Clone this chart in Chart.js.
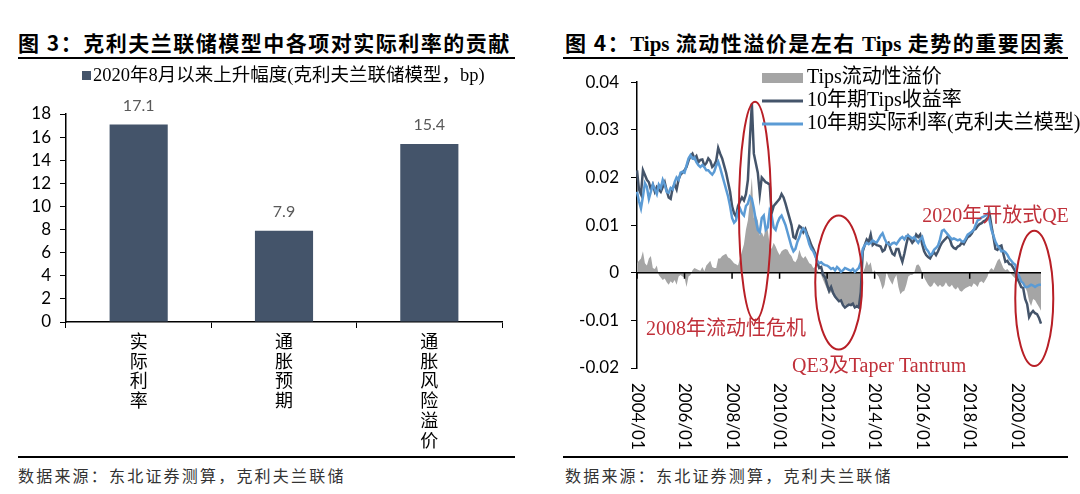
<!DOCTYPE html>
<html>
<head>
<meta charset="utf-8">
<script src="https://cdn.jsdelivr.net/npm/chart.js@4.4.1/dist/chart.umd.min.js"></script>
<style>
body{margin:0;width:1080px;height:494px;background:#fff;position:relative;overflow:hidden;font-family:"Noto Sans CJK SC",sans-serif}
.title{position:absolute;top:27px;font-size:21px;font-weight:bold;letter-spacing:1.5px;color:#000;white-space:nowrap;line-height:30px}
.title .en{font-family:"Liberation Serif",serif;letter-spacing:0}
.rule{position:absolute;height:2px;background:#000}
.src{position:absolute;top:464px;font-size:16px;letter-spacing:2.2px;color:#333;line-height:22px;white-space:nowrap}
canvas{position:absolute;top:60px}
</style>
</head>
<body>
<div class="title" style="left:18px">图 3：克利夫兰联储模型中各项对实际利率的贡献</div>
<div class="rule" style="left:18px;width:497px;top:57px"></div>
<div class="title" style="left:565px">图 4：<span class="en">Tips</span> 流动性溢价是左右 <span class="en">Tips</span> 走势的重要因素</div>
<div class="rule" style="left:563px;width:505px;top:57px"></div>

<canvas id="barChart" width="540" height="395" style="left:0"></canvas>
<canvas id="lineChart" width="540" height="395" style="left:540px"></canvas>

<div class="rule" style="left:18px;width:497px;top:456px"></div>
<div class="src" style="left:18px">数据来源：东北证券测算，克利夫兰联储</div>
<div class="rule" style="left:563px;width:505px;top:456px"></div>
<div class="src" style="left:565px">数据来源：东北证券测算，克利夫兰联储</div>

<script>
// 图3 数据
const barCategories = [['实', '际', '利', '率'], ['通', '胀', '预', '期'], ['通', '胀', '风', '险', '溢', '价']];
const barValues = [17.1, 7.9, 15.4];
const barSeriesName = '2020年8月以来上升幅度(克利夫兰联储模型，bp)';

// 图4 数据（月度，2004/01 - 2021/01）
const months = [];
for (let y = 2004; y <= 2021; y++) {
    for (let m = 1; m <= 12; m++) {
        if (y === 2021 && m > 1) break;
        months.push(y + '/' + String(m).padStart(2, '0'));
    }
}
const xTickLabels = ['2004/01', '2006/01', '2008/01', '2010/01', '2012/01', '2014/01', '2016/01', '2018/01', '2020/01'];
const seriesNames = ['Tips流动性溢价', '10年期Tips收益率', '10年期实际利率(克利夫兰模型)'];

const liquidityPremium = [
    0.0020, 0.0025, 0.0030, 0.0045, 0.0020, 0.0015, 0.0030, 0.0035, 0.0010, 0.0008, 0.0015, -0.0005,
    -0.0010, -0.0015, -0.0012, -0.0020, -0.0025, -0.0018, -0.0022, -0.0015, -0.0025, -0.0008, -0.0005, -0.0008,
    -0.0010, -0.0030, -0.0008, -0.0005, 0.0005, 0.0010, 0.0008, 0.0006, 0.0004, 0.0012, 0.0003, 0.0015,
    0.0020, 0.0025, 0.0012, 0.0010, 0.0010, 0.0030, 0.0030, 0.0035, 0.0038, 0.0040, 0.0032, 0.0030,
    0.0025, 0.0020, 0.0018, 0.0015, 0.0030, 0.0045, 0.0060, 0.0090, 0.0110, 0.0150, 0.0200, 0.0115,
    0.0120, 0.0110, 0.0078, 0.0085, 0.0075, 0.0095, 0.0090, 0.0060, 0.0050, 0.0063, 0.0055, 0.0045,
    0.0037, 0.0045, 0.0048, 0.0050, 0.0048, 0.0040, 0.0035, 0.0025, 0.0022, 0.0030, 0.0048, 0.0035,
    0.0030, 0.0035, 0.0028, 0.0020, 0.0018, 0.0010, 0.0012, 0.0005, 0.0000, -0.0005, -0.0015, -0.0025,
    -0.0035, -0.0045, -0.0040, -0.0048, -0.0052, -0.0058, -0.0062, -0.0058, -0.0065, -0.0068, -0.0070, -0.0065,
    -0.0068, -0.0063, -0.0068, -0.0070, -0.0075, -0.0060, 0.0000, 0.0010, 0.0025, 0.0015, 0.0022, 0.0000,
    0.0005, -0.0003, -0.0008, -0.0020, -0.0035, -0.0025, 0.0002, -0.0010, -0.0018, -0.0025, -0.0012, -0.0005,
    -0.0030, -0.0045, -0.0040, -0.0038, -0.0025, -0.0008, -0.0005, -0.0005, 0.0000, 0.0015, 0.0018, 0.0012,
    0.0000, -0.0010, -0.0018, -0.0025, -0.0030, -0.0028, -0.0020, -0.0025, -0.0030, -0.0025, -0.0030, -0.0028,
    -0.0020, -0.0028, -0.0030, -0.0025, -0.0032, -0.0035, -0.0030, -0.0038, -0.0040, -0.0035, -0.0032, -0.0030,
    -0.0028, -0.0030, -0.0022, -0.0025, -0.0030, -0.0020, -0.0018, -0.0022, -0.0015, -0.0008, 0.0005, 0.0010,
    0.0005, 0.0015, 0.0025, 0.0030, 0.0020, 0.0010, 0.0005, 0.0008, 0.0003, -0.0003, -0.0008, -0.0012,
    -0.0012, -0.0015, -0.0018, -0.0020, -0.0030, -0.0040, -0.0060, -0.0070, -0.0055, -0.0058, -0.0065, -0.0072,
    -0.0080
];

const tipsYield = [
    0.0215, 0.0175, 0.0165, 0.0215, 0.0205, 0.0195, 0.0190, 0.0175, 0.0185, 0.0170, 0.0180, 0.0175,
    0.0170, 0.0180, 0.0190, 0.0172, 0.0158, 0.0155, 0.0178, 0.0185, 0.0175, 0.0196, 0.0206, 0.0210,
    0.0215, 0.0222, 0.0235, 0.0245, 0.0250, 0.0240, 0.0245, 0.0232, 0.0237, 0.0238, 0.0225, 0.0230,
    0.0240, 0.0235, 0.0222, 0.0226, 0.0235, 0.0262, 0.0250, 0.0240, 0.0225, 0.0210, 0.0190, 0.0170,
    0.0140, 0.0125, 0.0118, 0.0140, 0.0150, 0.0158, 0.0152, 0.0165, 0.0195, 0.0280, 0.0355, 0.0250,
    0.0230, 0.0210, 0.0165, 0.0200, 0.0195, 0.0190, 0.0188, 0.0185, 0.0125, 0.0140, 0.0145, 0.0150,
    0.0155, 0.0165, 0.0158, 0.0145, 0.0130, 0.0115, 0.0100, 0.0075, 0.0072, 0.0088, 0.0098, 0.0095,
    0.0085, 0.0092, 0.0080, 0.0070, 0.0058, 0.0050, 0.0040, 0.0022, 0.0010, 0.0012, -0.0005, -0.0010,
    -0.0025, -0.0038, -0.0030, -0.0042, -0.0050, -0.0055, -0.0060, -0.0058, -0.0068, -0.0073, -0.0070, -0.0067,
    -0.0068, -0.0065, -0.0073, -0.0070, -0.0073, -0.0040, 0.0045, 0.0058, 0.0070, 0.0065, 0.0080, 0.0058,
    0.0062, 0.0058, 0.0057, 0.0055, 0.0045, 0.0048, 0.0060, 0.0063, 0.0050, 0.0040, 0.0037, 0.0050,
    0.0050, 0.0035, 0.0023, 0.0040, 0.0060, 0.0077, 0.0070, 0.0063, 0.0068, 0.0080, 0.0075, 0.0080,
    0.0060, 0.0045, 0.0037, 0.0033, 0.0030, 0.0038, 0.0043, 0.0037, 0.0045, 0.0055, 0.0063, 0.0068,
    0.0072, 0.0077, 0.0070, 0.0057, 0.0052, 0.0050, 0.0055, 0.0057, 0.0063, 0.0060, 0.0068, 0.0075,
    0.0077, 0.0082, 0.0090, 0.0092, 0.0098, 0.0102, 0.0104, 0.0108, 0.0110, 0.0115, 0.0124, 0.0098,
    0.0075, 0.0050, 0.0048, 0.0055, 0.0057, 0.0040, 0.0023, 0.0025, 0.0018, 0.0017, 0.0010, 0.0003,
    -0.0012, -0.0020, -0.0030, -0.0032, -0.0055, -0.0066, -0.0093, -0.0085, -0.0080, -0.0085, -0.0087, -0.0095,
    -0.0107
];

const modelRealRate = [
    0.0170, 0.0150, 0.0135, 0.0160, 0.0188, 0.0180, 0.0155, 0.0170, 0.0185, 0.0175, 0.0165, 0.0185,
    0.0178, 0.0195, 0.0185, 0.0170, 0.0168, 0.0178, 0.0175, 0.0190, 0.0200, 0.0195, 0.0210, 0.0212,
    0.0210, 0.0225, 0.0240, 0.0247, 0.0240, 0.0242, 0.0232, 0.0226, 0.0222, 0.0226, 0.0222, 0.0215,
    0.0215, 0.0210, 0.0206, 0.0212, 0.0225, 0.0233, 0.0220, 0.0205, 0.0190, 0.0175, 0.0160, 0.0140,
    0.0115, 0.0105, 0.0110, 0.0130, 0.0135, 0.0125, 0.0120, 0.0140, 0.0145, 0.0160, 0.0155, 0.0135,
    0.0110, 0.0090, 0.0085, 0.0115, 0.0120, 0.0090, 0.0095, 0.0130, 0.0120, 0.0095, 0.0090, 0.0105,
    0.0115, 0.0120, 0.0110, 0.0100, 0.0085, 0.0070, 0.0055, 0.0045, 0.0050, 0.0065, 0.0075, 0.0088,
    0.0093, 0.0088, 0.0075, 0.0060, 0.0050, 0.0045, 0.0035, 0.0025, 0.0020, 0.0022, 0.0018, 0.0016,
    0.0015, 0.0012, 0.0008, 0.0010, 0.0005, 0.0012, 0.0008, 0.0002, 0.0005, 0.0010, 0.0008, 0.0006,
    0.0004, 0.0008, 0.0002, 0.0006, 0.0010, 0.0022, 0.0050, 0.0058, 0.0063, 0.0060, 0.0063, 0.0068,
    0.0065, 0.0063, 0.0070, 0.0078, 0.0083, 0.0072, 0.0063, 0.0060, 0.0058, 0.0062, 0.0063, 0.0060,
    0.0066, 0.0072, 0.0075, 0.0070, 0.0077, 0.0078, 0.0075, 0.0072, 0.0075, 0.0068, 0.0063, 0.0070,
    0.0075, 0.0060, 0.0050, 0.0045, 0.0037, 0.0040, 0.0048, 0.0052, 0.0057, 0.0070, 0.0088, 0.0090,
    0.0085, 0.0080, 0.0075, 0.0070, 0.0072, 0.0070, 0.0068, 0.0070, 0.0066, 0.0065, 0.0072, 0.0080,
    0.0083, 0.0086, 0.0090, 0.0100, 0.0110, 0.0112, 0.0116, 0.0118, 0.0120, 0.0124, 0.0110, 0.0090,
    0.0078, 0.0065, 0.0057, 0.0052, 0.0045, 0.0046, 0.0043, 0.0038, 0.0030, 0.0025, 0.0020, 0.0017,
    0.0000, -0.0008, -0.0018, -0.0022, -0.0030, -0.0030, -0.0028, -0.0025, -0.0027, -0.0030, -0.0027, -0.0025,
    -0.0025
];

// 红色标注：月份序号范围 + 数值范围
const ellipses = [
    { x0: 51.5, x1: 67.7, y0: -0.0100, y1: 0.0359 },
    { x0: 90, x1: 113.7, y0: -0.0161, y1: 0.0120 },
    { x0: 191, x1: 210.2, y0: -0.0196, y1: 0.0088 }
];
const notes = [
    { text: '2008年流动性危机', x: 4.5, y: -0.0120 },
    { text: 'QE3及Taper Tantrum', x: 78.3, y: -0.0198 },
    { text: '2020年开放式QE', x: 144, y: 0.0118 }
];

const NUM_FONT = 'Lato, "Liberation Sans", sans-serif';
const SERIF = '"Liberation Serif", "Noto Sans CJK SC", serif';
const C_DARK = '#44546A', C_BLUE = '#5B9BD5', C_GRAY = '#A5A5A5', C_RED = '#B81F26';

// ---------- 图3 柱状图 ----------
const barDecor = {
    id: 'barDecor',
    afterDatasetsDraw(chart) {
        const ctx = chart.ctx;
        ctx.save();
        // 图例
        ctx.fillStyle = C_DARK;
        ctx.fillRect(82, 11, 9, 9);
        ctx.fillStyle = '#000';
        ctx.font = '18.5px ' + SERIF;
        ctx.textBaseline = 'middle';
        ctx.fillText(chart.data.datasets[0].label, 93, 16);
        // 数值标签
        ctx.font = '16px ' + NUM_FONT;
        ctx.fillStyle = '#595959';
        ctx.textAlign = 'center';
        chart.getDatasetMeta(0).data.forEach((bar, i) => {
            ctx.fillText(barValues[i].toFixed(1), bar.x, bar.y - 19);
        });
        ctx.restore();
    }
};

new Chart(document.getElementById('barChart'), {
    type: 'bar',
    data: {
        labels: barCategories,
        datasets: [{
            label: barSeriesName,
            data: barValues,
            backgroundColor: C_DARK,
            categoryPercentage: 1,
            barPercentage: 0.4
        }]
    },
    options: {
        responsive: false,
        animation: false,
        devicePixelRatio: 1,
        layout: { padding: { top: 54, right: 38, left: 0, bottom: 0 } },
        plugins: { legend: { display: false }, tooltip: { enabled: false } },
        scales: {
            x: {
                afterFit: s => { s.height = 133; },
                grid: { display: true, drawOnChartArea: false, tickLength: 6, color: '#000', offset: true },
                border: { color: '#000', width: 1.5 },
                ticks: { color: '#000', padding: 3, font: { family: '"Noto Sans CJK SC"', size: 18, lineHeight: 1.1 } }
            },
            y: {
                min: 0, max: 18,
                afterFit: s => { s.width = 66; },
                grid: { display: true, drawOnChartArea: false, tickLength: 6, color: '#000' },
                border: { color: '#000', width: 1.5 },
                ticks: { stepSize: 2, autoSkip: false, color: '#000', padding: 9, font: { family: NUM_FONT, size: 17 } }
            }
        }
    },
    plugins: [barDecor]
});

// ---------- 图4 折线图 ----------
const lineDecor = {
    id: 'lineDecor',
    afterDatasetDraw(chart, args) {
        if (args.index !== 0) return;
        // 零轴与刻度
        const { ctx, chartArea, scales: { x, y } } = chart;
        const y0 = y.getPixelForValue(0);
        ctx.save();
        ctx.strokeStyle = '#000';
        ctx.lineWidth = 1.5;
        ctx.beginPath();
        ctx.moveTo(chartArea.left, y0);
        ctx.lineTo(chartArea.right, y0);
        xTickLabels.forEach(lab => {
            const px = x.getPixelForValue(months.indexOf(lab));
            ctx.moveTo(px, y0);
            ctx.lineTo(px, y0 + 6);
        });
        ctx.stroke();
        ctx.restore();
    },
    afterDatasetsDraw(chart) {
        const { ctx, scales: { x, y } } = chart;
        ctx.save();
        // 红圈
        ctx.strokeStyle = C_RED;
        ctx.lineWidth = 2;
        ellipses.forEach(e => {
            const l = x.getPixelForValue(e.x0), r = x.getPixelForValue(e.x1);
            const t = y.getPixelForValue(e.y1), b = y.getPixelForValue(e.y0);
            ctx.beginPath();
            ctx.ellipse((l + r) / 2, (t + b) / 2, (r - l) / 2, (b - t) / 2, 0, 0, Math.PI * 2);
            ctx.stroke();
        });
        ctx.fillStyle = '#C0303A';
        ctx.font = '20px ' + SERIF;
        ctx.textBaseline = 'middle';
        notes.forEach(n => ctx.fillText(n.text, x.getPixelForValue(n.x), y.getPixelForValue(n.y)));

        // 图例
        const lx = 222, tx = 267;
        const rows = [18, 41, 64];
        ctx.fillStyle = C_GRAY;
        ctx.fillRect(lx, rows[0] - 5, 41, 10);
        ctx.lineWidth = 3;
        ctx.strokeStyle = C_DARK;
        ctx.beginPath(); ctx.moveTo(lx, rows[1]); ctx.lineTo(lx + 41, rows[1]); ctx.stroke();
        ctx.strokeStyle = C_BLUE;
        ctx.beginPath(); ctx.moveTo(lx, rows[2]); ctx.lineTo(lx + 41, rows[2]); ctx.stroke();
        ctx.fillStyle = '#000';
        seriesNames.forEach((s, i) => ctx.fillText(s, tx, rows[i]));
        ctx.restore();
    },
    afterDraw(chart) {
        const { ctx, chartArea, scales: { x } } = chart;
        ctx.save();
        ctx.font = '17px ' + NUM_FONT;
        ctx.fillStyle = '#000';
        ctx.textAlign = 'left';
        ctx.textBaseline = 'middle';
        xTickLabels.forEach(lab => {
            const px = x.getPixelForValue(months.indexOf(lab));
            ctx.save();
            ctx.translate(px, chartArea.bottom + 15);
            ctx.rotate(Math.PI / 2);
            ctx.fillText(lab, 0, 0);
            ctx.restore();
        });
        ctx.restore();
    }
};

new Chart(document.getElementById('lineChart'), {
    type: 'line',
    data: {
        labels: months,
        datasets: [
            { label: seriesNames[0], data: liquidityPremium, order: 3, fill: 'origin', backgroundColor: C_GRAY, borderWidth: 0, pointRadius: 0 },
            { label: seriesNames[1], data: tipsYield, order: 2, borderColor: C_DARK, borderWidth: 2.5, pointRadius: 0, fill: false },
            { label: seriesNames[2], data: modelRealRate, order: 1, borderColor: C_BLUE, borderWidth: 2.5, pointRadius: 0, fill: false }
        ]
    },
    options: {
        responsive: false,
        animation: false,
        devicePixelRatio: 1,
        layout: { padding: { top: 15, right: 39, left: 0, bottom: 0 } },
        plugins: { legend: { display: false }, tooltip: { enabled: false } },
        scales: {
            x: {
                offset: false,
                afterFit: s => { s.height = 87; },
                grid: { display: false },
                border: { display: false },
                ticks: { display: false }
            },
            y: {
                min: -0.02, max: 0.04,
                afterFit: s => { s.width = 97; },
                grid: { display: true, drawOnChartArea: false, tickLength: 6, color: '#000' },
                border: { color: '#000', width: 1.5 },
                ticks: {
                    stepSize: 0.01, autoSkip: false, color: '#000', padding: 12,
                    font: { family: NUM_FONT, size: 17 },
                    callback: v => String(Number(v.toFixed(2)))
                }
            }
        }
    },
    plugins: [lineDecor]
});
</script>
</body>
</html>
